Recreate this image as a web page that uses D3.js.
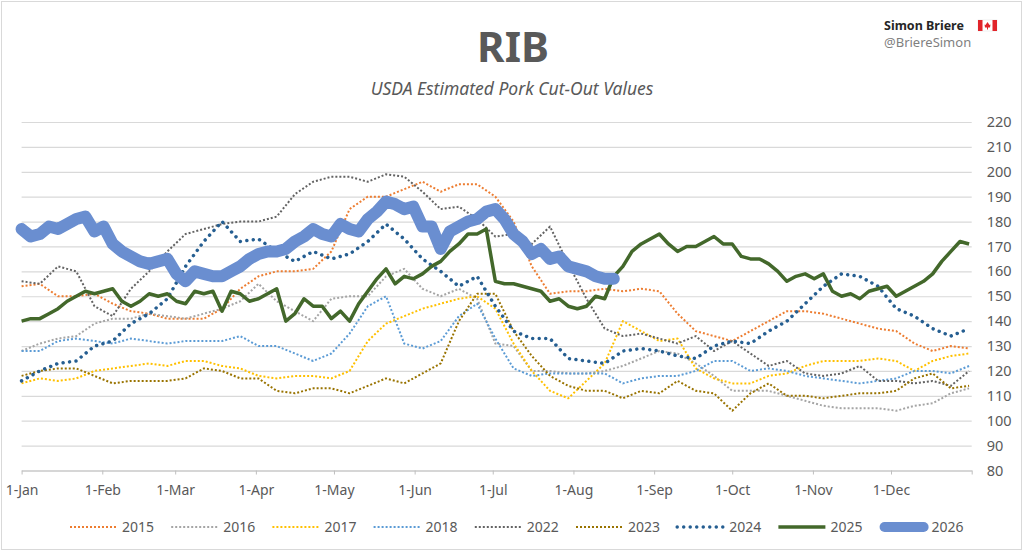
<!DOCTYPE html>
<html>
<head>
<meta charset="utf-8">
<script src="https://cdn.jsdelivr.net/npm/d3@7"></script>
<style>
body { margin: 0; background: #fff; }
text { font-family: "Noto Sans", "DejaVu Sans", sans-serif; fill: #595959; }
</style>
</head>
<body>
<script>
var years = ["2015", "2016", "2017", "2018", "2022", "2023", "2024", "2025", "2026"];

// older years read once a week (from 1-Jan)
var s2015 = [154,155,150,150,151,147,144,143,141,141,141,145,153,158,160,160,161,
    168,185,190,190,193,196,192,195,195,190,180,162,151,152,152,153,152,153,
    152,143,136,134,132,136,140,144,144,143,141,139,137,136,131,128,130,129];
var s2016 = [128,131,133,134,139,141,141,143,142,141,143,145,148,155,148,144,140,
    149,150,150,158,161,153,150,153,149,131,130,120,120,119,119,120,122,125,
    128,127,123,118,112,112,112,110,108,106,105,105,105,104,106,107,111,113];
var s2017 = [115,117,116,117,120,121,122,123,122,124,124,122,121,118,117,118,118,
    117,120,132,139,142,145,147,149,150,145,131,120,112,109,116,123,140,136,
    132,133,121,117,115,115,118,119,122,124,124,124,125,124,120,124,126,127];
var s2018 = [128,128,132,133,132,131,133,132,131,132,132,132,134,130,130,127,124,
    127,135,146,150,131,129,132,142,147,133,121,118,119,119,119,119,115,117,
    118,118,120,124,124,120,121,120,118,117,116,115,116,117,120,120,119,122];
var s2022 = [156,155,162,160,146,142,153,160,168,175,177,179,180,180,182,191,196,
    198,198,196,199,198,192,185,186,181,174,175,171,178,163,149,137,134,135,
    133,131,134,128,132,127,122,124,119,118,119,122,116,116,115,116,114,120];
var s2023 = [118,120,121,121,118,115,116,116,116,117,121,120,117,117,112,111,113,
    113,111,114,117,115,119,123,140,151,151,136,126,118,114,112,112,109,112,
    111,116,112,111,104,111,115,110,110,109,110,111,111,112,117,119,113,114];
var s2024 = [116,120,123,124,130,132,139,143,149,162,172,180,172,173,168,164,168,
    165,167,172,179,173,165,160,154,158,146,136,133,133,125,124,123,128,129,
    128,126,125,130,132,131,136,140,147,154,159,158,154,145,142,137,134,137];

// 2025 and 2026 read twice a week
var s2025 = [140,141,141,143,145,148,150,152,151,152,153,148,146,148,151,150,151,148,147,152,
    151,152,144,152,151,148,149,151,153,140,143,149,146,146,
    141,144,140,147,152,157,161,155,158,157,159,162,164,168,171,175,175,177,156,155,
    155,154,153,152,148,149,146,145,146,150,149,158,162,168,171,
    173,175,171,168,170,170,172,174,171,171,166,165,165,163,160,156,158,159,157,159,
    152,150,151,149,152,153,154,150,152,154,156,159,164,168,172,171];
var s2026 = [177,174,175,178,177,179,181,182,176,178,171,168,166,164,163,164,165,159,156,160,
    159,158,158,160,162,165,167,168,168,169,172,174,177,175,
    174,179,177,176,181,184,188,187,185,186,178,178,169,176,178,180,181,184,185,181,
    175,172,167,169,165,166,162,161,160,158,157,157];
var stepDays = [7, 7, 7, 7, 7, 7, 7, 3.5, 3.5];

var yTicks = [80, 90, 100, 110, 120, 130, 140, 150, 160, 170, 180, 190, 200, 210, 220];
var monthLabels = ["1-Jan", "1-Feb", "1-Mar", "1-Apr", "1-May", "1-Jun",
    "1-Jul", "1-Aug", "1-Sep", "1-Oct", "1-Nov", "1-Dec"];

var colors = ["#ED7D31", "#A5A5A5", "#FFC000", "#5B9BD5", "#636363",
    "#997300", "#255E91", "#43682B", "#6A8ED0"];

var width = 1024, height = 553;
var start = new Date(2025, 0, 1);

var svg = d3.select("body").append("svg")
    .attr("width", width)
    .attr("height", height);

svg.append("rect")
    .attr("x", 1.5).attr("y", 1.5)
    .attr("width", 1020).attr("height", 548)
    .attr("fill", "#fff")
    .attr("stroke", "#D9D9D9");

var x = d3.scaleTime()
    .domain([start, new Date(2026, 0, 1)])
    .range([21.6, 971.7]);
var y = d3.scaleLinear()
    .domain([80, 220])
    .range([470.5, 122]);

// gridlines + right labels
var yAxis = svg.append("g")
    .attr("transform", "translate(971.7,0)")
    .call(d3.axisRight(y).tickValues(yTicks).tickSize(-950.1).tickPadding(15));
yAxis.select(".domain").remove();
yAxis.selectAll("line").attr("stroke", "#D9D9D9").attr("stroke-width", 1.2);
yAxis.selectAll("text")
    .style("font-size", "14.5px")
    .attr("fill", "#595959");

var months = d3.timeMonth.range(start, new Date(2026, 0, 2));
var xAxis = svg.append("g")
    .attr("transform", "translate(0," + y(80) + ")")
    .call(d3.axisBottom(x)
        .tickValues(months)
        .tickSize(4)
        .tickSizeOuter(0)
        .tickPadding(11)
        .tickFormat(function(d, i) { return monthLabels[i] || ""; }));
xAxis.select(".domain").attr("stroke", "#BFBFBF").attr("stroke-width", 1.2);
xAxis.selectAll("line").attr("stroke", "#BFBFBF");
xAxis.selectAll("text")
    .style("font-size", "14px")
    .attr("fill", "#595959");

var allSeries = [s2015, s2016, s2017, s2018, s2022, s2023, s2024, s2025, s2026];
var series = years.map(function(yr, i) {
    return {
        year: yr,
        color: colors[i],
        values: allSeries[i].map(function(v, j) {
            return {date: new Date(+start + j * stepDays[i] * 864e5), value: v};
        })
    };
});

function styleLine(sel) {
    sel.attr("fill", "none")
        .attr("stroke", d => d.color)
        .attr("stroke-linejoin", "round")
        .attr("stroke-width", function(d) {
            if (d.year == "2026") return 12;
            if (d.year == "2025") return 3.5;
            if (d.year == "2024") return 3.5;
            return 2;
        })
        .attr("stroke-linecap", function(d) {
            return (d.year == "2024" || d.year == "2026") ? "round" : "butt";
        })
        .attr("stroke-dasharray", function(d) {
            if (d.year == "2025" || d.year == "2026") return null;
            if (d.year == "2024") return "0.01,6.5";
            return "2,2";
        });
}

var line = d3.line()
    .x(d => x(d.date))
    .y(d => y(d.value));

svg.selectAll(".series")
    .data(series)
    .enter()
    .append("path")
    .attr("class", "series")
    .attr("d", d => line(d.values))
    .call(styleLine);

// legend
var legend = svg.append("g").attr("class", "legend");
var items = legend.selectAll(".item")
    .data(series)
    .enter()
    .append("g")
    .attr("transform", (d, i) => "translate(" + (70 + i * 101.2) + ",527)");
items.append("path")
    .attr("d", "M0,0H47")
    .call(styleLine)
    .filter(d => d.year == "2026")
    .attr("stroke-width", 10)
    .attr("d", "M5,0H44");
items.append("text")
    .attr("x", 52)
    .attr("dy", "0.35em")
    .style("font-size", "14px")
    .text(d => d.year);

// titles
svg.append("text")
    .attr("x", 513)
    .attr("y", 62)
    .attr("text-anchor", "middle")
    .style("font-size", "42px")
    .style("font-weight", "bold")
    .text("RIB");

svg.append("text")
    .attr("x", 512)
    .attr("y", 95)
    .attr("text-anchor", "middle")
    .style("font-size", "17.5px")
    .style("font-style", "italic")
    .text("USDA Estimated Pork Cut-Out Values");

svg.append("text")
    .attr("x", 884)
    .attr("y", 30)
    .style("font-size", "12.5px")
    .style("font-weight", "bold")
    .style("fill", "#262626")
    .text("Simon Briere");

svg.append("text")
    .attr("x", 884)
    .attr("y", 47)
    .style("font-size", "13px")
    .style("fill", "#7F7F7F")
    .text("@BriereSimon");

// little canadian flag
var flag = svg.append("g").attr("transform", "translate(978,20)");
flag.append("rect").attr("width", 19).attr("height", 11).attr("fill", "#fff").attr("stroke", "#E0E0E0").attr("stroke-width", 0.5);
flag.append("rect").attr("width", 4.5).attr("height", 11).attr("fill", "#E1242A");
flag.append("rect").attr("x", 14.5).attr("width", 4.5).attr("height", 11).attr("fill", "#E1242A");
flag.append("path")
    .attr("d", "M9.5,2 L11.5,5 L12.5,4.5 L12,7.5 L10,7.5 L10,9.5 L9,9.5 L9,7.5 L7,7.5 L6.5,4.5 L7.5,5 Z")
    .attr("fill", "#E1242A");
</script>
</body>
</html>
